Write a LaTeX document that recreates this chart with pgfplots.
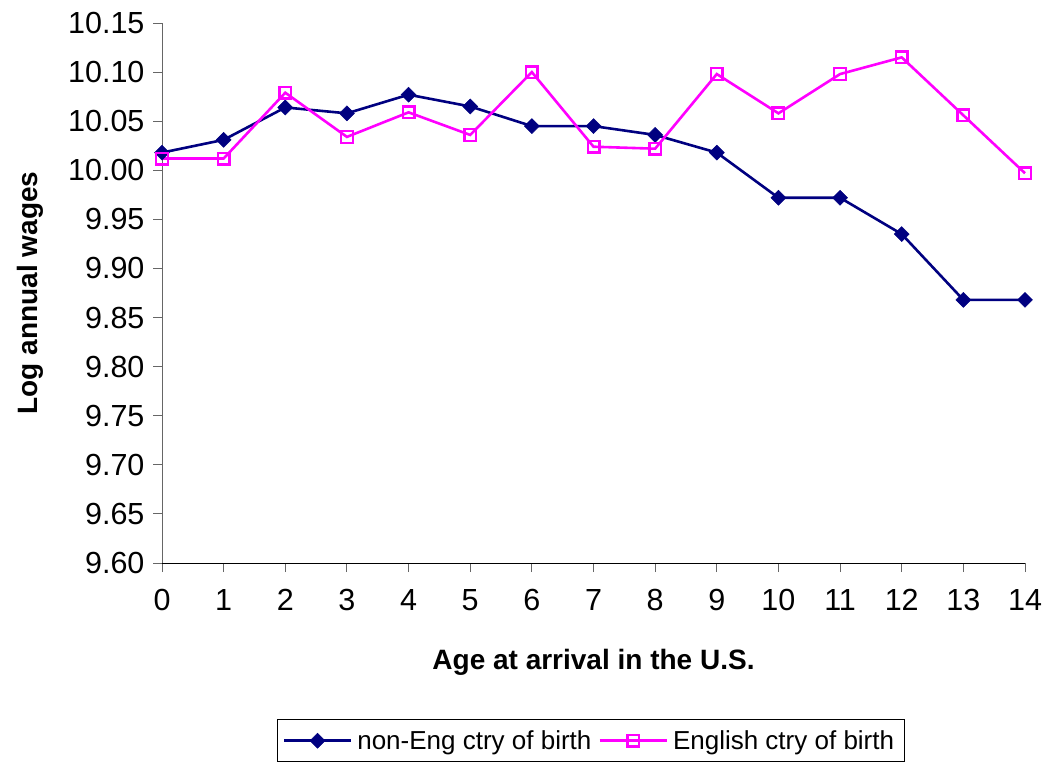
\documentclass[border=0pt]{standalone}
\usepackage{fontspec}
\setmainfont{Liberation Sans}
\usepackage{pgfplots}
\pgfplotsset{compat=1.18}
\definecolor{navyx}{RGB}{0,0,128}
\definecolor{magx}{RGB}{255,0,255}
\begin{document}
\begin{tikzpicture}
\useasboundingbox (0,0) rectangle (1048pt,-769pt);
\begin{axis}[
  scale only axis,
  width=863pt, height=540pt,
  at={(162pt,-563pt)}, anchor=south west,
  xmin=0, xmax=14, ymin=9.6, ymax=10.15,
  axis x line*=bottom, axis y line*=left,
  x axis line style={-, black, line width=1pt},
  y axis line style={-, black!60, line width=1pt},
  xtick={0,1,...,14},
  ytick={9.6,9.65,9.7,9.75,9.8,9.85,9.9,9.95,10,10.05,10.1,10.15},
  yticklabel style={/pgf/number format/fixed, /pgf/number format/fixed zerofill, /pgf/number format/precision=2},
  /pgf/number format/assume math mode=true,
  tick align=outside, major tick length=9pt,
  tick style={black!60, line width=1pt},
  ticklabel style={font=\fontsize{30.5}{34}\selectfont},
  xticklabel style={yshift=-14pt},
  yticklabel style={xshift=-5pt},
  xlabel={\textbf{Age at arrival in the U.S.}},
  ylabel={\textbf{Log annual wages}},
  label style={font=\fontsize{28}{32}\selectfont},
  xlabel style={at={(axis description cs:0.5,-0.183)}, anchor=center},
  ylabel style={at={(axis description cs:-0.153,0.5)}, anchor=center},
  legend columns=2,
  legend style={at={(axis description cs:0.497,-0.289)}, anchor=north,
    draw=black, line width=1pt, font=\fontsize{26}{30}\selectfont,
    inner xsep=5pt, inner ysep=9pt,
    nodes={inner xsep=5pt},
    /tikz/every even column/.append style={column sep=2pt}},
  legend image code/.code={
    \draw[#1] (0pt,0pt) -- (67pt,0pt);
    \draw[#1, mark repeat=1] plot coordinates {(33.5pt,0pt)};
  },
  clip=false,
]
\addplot[navyx, line width=2.6pt, mark=square*, mark size=5.3pt,
  mark options={rotate=45, solid, fill=navyx, line width=0.5pt}] coordinates {
(0,10.018) (1,10.031) (2,10.064) (3,10.058) (4,10.077) (5,10.065) (6,10.045)
(7,10.045) (8,10.036) (9,10.018) (10,9.972) (11,9.972) (12,9.935) (13,9.868) (14,9.868)};
\addlegendentry{non-Eng ctry of birth}
\addplot[magx, line width=2.6pt, mark=square, mark size=5.8pt,
  mark options={solid, line width=2.4pt}] coordinates {
(0,10.012) (1,10.012) (2,10.079) (3,10.034) (4,10.059) (5,10.036) (6,10.100)
(7,10.024) (8,10.022) (9,10.098) (10,10.058) (11,10.098) (12,10.115) (13,10.056) (14,9.997)};
\addlegendentry{English ctry of birth}
\end{axis}
\end{tikzpicture}
\end{document}
